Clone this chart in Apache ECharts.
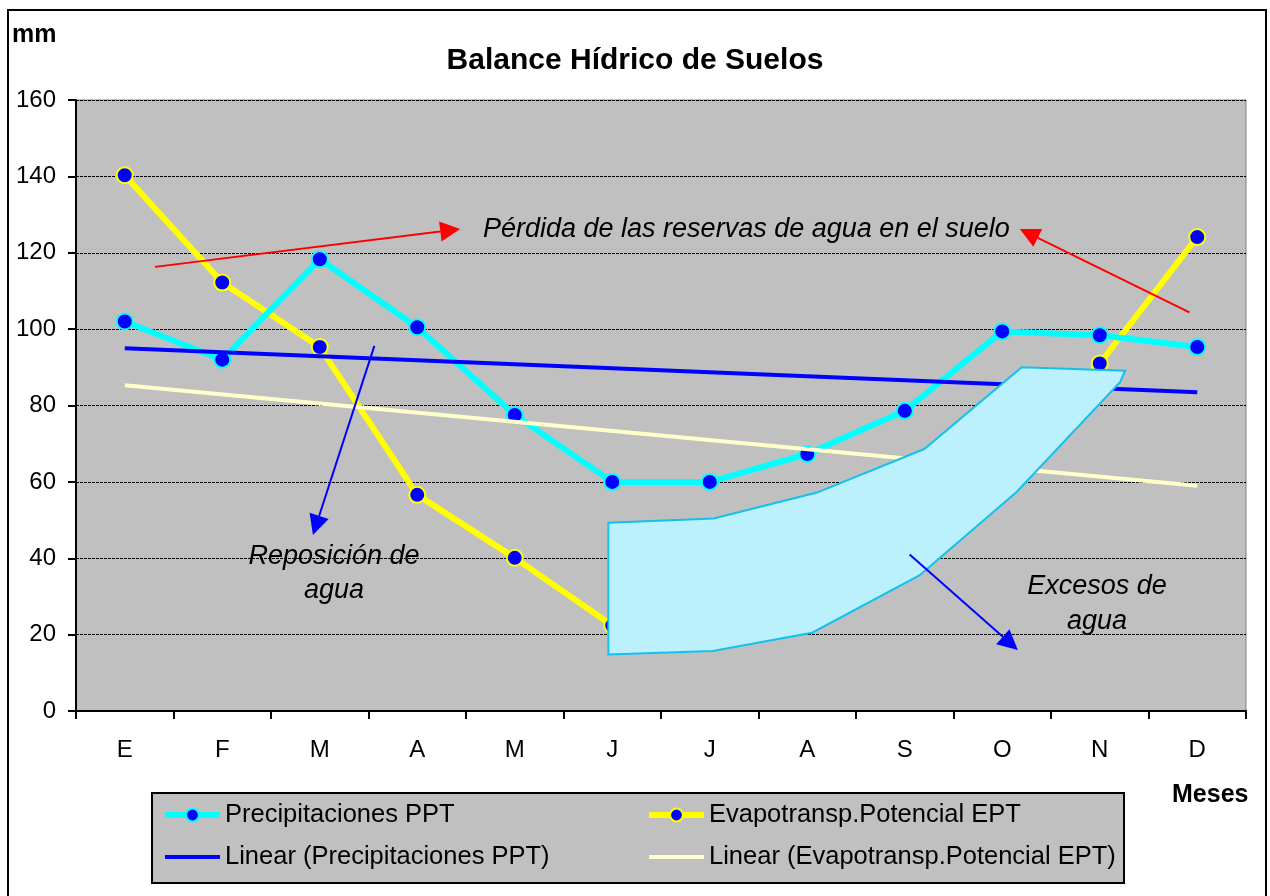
<!DOCTYPE html>
<html>
<head>
<meta charset="utf-8">
<title>Balance Hídrico de Suelos</title>
<script src="https://cdn.jsdelivr.net/npm/echarts@6/dist/echarts.min.js"></script>
<style>
  html, body { margin: 0; padding: 0; background: #fff; }
  #chart { width: 1270px; height: 896px; }
</style>
</head>
<body>
<div id="chart"></div>
<script>
const months = ['E', 'F', 'M', 'A', 'M', 'J', 'J', 'A', 'S', 'O', 'N', 'D'];
const ppt = [102, 92, 118.3, 100.5, 77.5, 60, 60, 67.3, 78.6, 99.4, 98.4, 95.3];
const ept = [140.3, 112.2, 95.3, 56.6, 40.1, 22.4, 20, 28, 45, 68, 91, 124.1];

// trend lines, read at E (index 0) and D (index 11)
const trendX = [0, 11];
const trendPPT = [95, 83.5];
const trendEPT = [85.3, 59];

// shaded "excesos" area, [month index, mm]
const excessArea = [
  [4.96, 49.3], [6.04, 50.4], [7.10, 57.2], [8.20, 68.6], [9.20, 90.0], [10.26, 89.1],
  [10.21, 86.2], [9.15, 57.4], [8.15, 35.5], [7.05, 20.5], [6.03, 15.7], [4.96, 14.8]
];

// arrows: [fromX, fromY, toX, toY] in month index / mm
const redArrows = [[0.31, 116.3, 3.44, 126.2], [10.92, 104.4, 9.18, 126.2]];
const blueArrows = [[2.56, 95.6, 1.93, 46.1], [8.05, 41.0, 9.16, 16.0]];

const FONT = "'Liberation Sans', Arial, sans-serif";

function arrowRender(color) {
  return function (params, api) {
    const a = api.coord([api.value(0), api.value(1)]);
    const b = api.coord([api.value(2), api.value(3)]);
    const ang = Math.atan2(b[1] - a[1], b[0] - a[0]);
    const len = 20, w = 20;
    const bx = b[0] - len * Math.cos(ang);
    const by = b[1] - len * Math.sin(ang);
    const nx = -Math.sin(ang) * w / 2;
    const ny = Math.cos(ang) * w / 2;
    return {
      type: 'group',
      children: [
        {type: 'line', shape: {x1: a[0], y1: a[1], x2: bx, y2: by}, style: {stroke: color, lineWidth: 2}},
        {type: 'polygon', shape: {points: [[b[0], b[1]], [bx + nx, by + ny], [bx - nx, by - ny]]}, style: {fill: color}}
      ]
    };
  };
}

let chartDom = document.getElementById('chart');
let myChart = echarts.init(chartDom);
let option;

const legendBase = {
  orient: 'vertical',
  top: 802,
  padding: 0,
  itemWidth: 55,
  itemHeight: 16,
  itemGap: 16,
  textStyle: {fontSize: 25.5, color: '#000', fontFamily: FONT}
};

option = {
  animation: false,
  backgroundColor: '#fff',
  textStyle: {fontFamily: FONT},
  title: {
    text: 'Balance Hídrico de Suelos',
    left: 'center',
    top: 41,
    textStyle: {fontSize: 30, fontWeight: 'bold', color: '#000', fontFamily: FONT}
  },
  legend: [
    Object.assign({
      left: 162,
      data: [
        {name: 'Precipitaciones PPT', lineStyle: {width: 6}},
        {name: 'Linear (Precipitaciones PPT)', lineStyle: {width: 4}, itemStyle: {opacity: 0}}
      ]
    }, legendBase),
    Object.assign({
      left: 646,
      data: [
        {name: 'Evapotransp.Potencial EPT', lineStyle: {width: 6}},
        {name: 'Linear (Evapotransp.Potencial EPT)', lineStyle: {width: 4}, itemStyle: {opacity: 0}}
      ]
    }, legendBase)
  ],
  grid: {
    left: 76,
    right: 24,
    top: 100,
    bottom: 185,
    show: true,
    backgroundColor: '#c0c0c0',
    borderColor: '#808080',
    borderWidth: 1
  },
  xAxis: [
    {
      type: 'category',
      data: months,
      boundaryGap: true,
      axisLine: {lineStyle: {color: '#000', width: 2}},
      axisTick: {show: true, length: 8, lineStyle: {color: '#000', width: 2}},
      axisLabel: {fontSize: 24, color: '#000', margin: 27},
      splitLine: {show: false}
    },
    {
      type: 'value',
      min: -0.5,
      max: 11.5,
      show: false
    }
  ],
  yAxis: {
    type: 'value',
    min: 0,
    max: 160,
    interval: 20,
    axisLine: {show: true, onZero: false, lineStyle: {color: '#000', width: 2}},
    axisTick: {show: true, length: 8, lineStyle: {color: '#000', width: 2}},
    axisLabel: {fontSize: 24, color: '#000', margin: 20},
    splitLine: {show: true, lineStyle: {color: '#000', width: 1, type: [3, 1]}}
  },
  graphic: [
    {type: 'rect', shape: {x: 8, y: 10, width: 1258, height: 900}, style: {fill: 'none', stroke: '#000', lineWidth: 2}},
    {type: 'rect', shape: {x: 152, y: 793, width: 972, height: 90}, style: {fill: '#c0c0c0', stroke: '#000', lineWidth: 2}},
    {type: 'text', x: 12, y: 35, style: {text: 'mm', font: 'bold 25px ' + FONT, fill: '#000', verticalAlign: 'middle'}},
    {type: 'text', x: 1172, y: 795, style: {text: 'Meses', font: 'bold 25px ' + FONT, fill: '#000', verticalAlign: 'middle'}},
    {type: 'text', x: 483, y: 229, z: 20, style: {text: 'Pérdida de las reservas de agua en el suelo', font: 'italic 27px ' + FONT, fill: '#000', verticalAlign: 'middle'}},
    {type: 'text', x: 334, y: 573, z: 20, style: {text: 'Reposición de\nagua', font: 'italic 27px ' + FONT, lineHeight: 34, fill: '#000', align: 'center', verticalAlign: 'middle'}},
    {type: 'text', x: 1097, y: 604, z: 20, style: {text: 'Excesos de\nagua', font: 'italic 27px ' + FONT, lineHeight: 35, fill: '#000', align: 'center', verticalAlign: 'middle'}}
  ],
  series: [
    {
      name: 'Evapotransp.Potencial EPT',
      type: 'line',
      data: ept,
      z: 2,
      symbol: 'circle',
      symbolSize: 16,
      lineStyle: {color: '#ffff00', width: 6},
      itemStyle: {color: '#0000ff', borderColor: '#ffff00', borderWidth: 2}
    },
    {
      name: 'Precipitaciones PPT',
      type: 'line',
      data: ppt,
      z: 2,
      symbol: 'circle',
      symbolSize: 16,
      lineStyle: {color: '#00ffff', width: 6},
      itemStyle: {color: '#0000ff', borderColor: '#00ffff', borderWidth: 2}
    },
    {
      name: 'Linear (Precipitaciones PPT)',
      type: 'line',
      xAxisIndex: 1,
      z: 3,
      symbol: 'none',
      data: trendX.map((x, i) => [x, trendPPT[i]]),
      lineStyle: {color: '#0000ff', width: 4},
      itemStyle: {color: '#0000ff'}
    },
    {
      name: 'Linear (Evapotransp.Potencial EPT)',
      type: 'line',
      xAxisIndex: 1,
      z: 3,
      symbol: 'none',
      data: trendX.map((x, i) => [x, trendEPT[i]]),
      lineStyle: {color: '#ffffcc', width: 4},
      itemStyle: {color: '#ffffcc'}
    },
    {
      type: 'custom',
      xAxisIndex: 1,
      z: 5,
      silent: true,
      data: [[0, 0]],
      renderItem: function (params, api) {
        return {
          type: 'polygon',
          shape: {points: excessArea.map(p => api.coord(p))},
          style: {fill: '#bbf1fd', stroke: '#14c0ee', lineWidth: 2}
        };
      }
    },
    {
      type: 'custom',
      xAxisIndex: 1,
      z: 6,
      silent: true,
      data: redArrows,
      renderItem: arrowRender('#ff0000')
    },
    {
      type: 'custom',
      xAxisIndex: 1,
      z: 6,
      silent: true,
      data: blueArrows,
      renderItem: arrowRender('#0000ff')
    }
  ]
};

option && myChart.setOption(option);
</script>
</body>
</html>
